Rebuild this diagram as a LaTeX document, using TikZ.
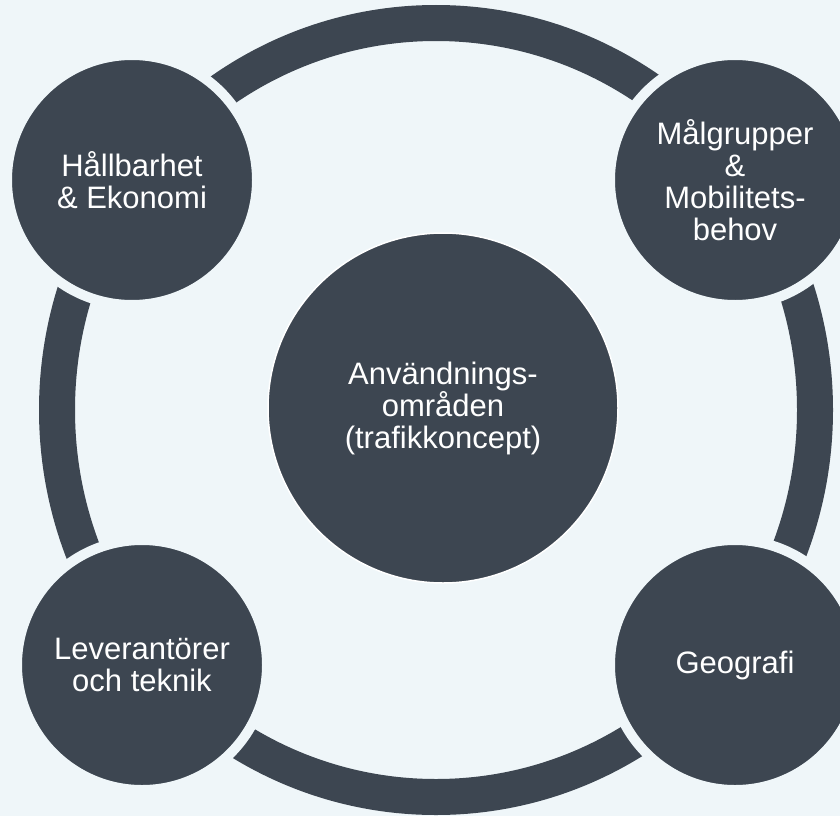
\documentclass[tikz,border=0pt]{standalone}
\usepackage{fontspec}
\setmainfont{Liberation Sans}
\definecolor{bgc}{HTML}{EFF6F9}
\definecolor{slate}{HTML}{3D4651}
\begin{document}
\begin{tikzpicture}[x=1pt,y=-1pt,
  txt/.style={text=white,align=center,font=\fontsize{31}{32}\selectfont},
  outer/.style={circle,fill=slate,draw=bgc,line width=10pt,minimum size=250pt,inner sep=0pt,txt},
  inner/.style={circle,fill=slate,draw=white,line width=1.5pt,minimum size=350pt,inner sep=0pt,txt}]
\fill[bgc] (0,0) rectangle (840,816);
\useasboundingbox (0,0) rectangle (840,816);
\draw[slate,line width=36pt] (436,410) ellipse [x radius=379, y radius=387];
\node[inner] (c) at (443,408) {Användnings-\\områden\\(trafikkoncept)};
\node[outer] (hk) at (132,180) {Hållbarhet\\\& Ekonomi};
\node[outer] (mm) at (735,180) {Målgrupper\\\&\\Mobilitets-\\behov};
\node[outer] (lt) at (142,665) {Leverantörer\\och teknik};
\node[outer] (geo) at (735,665) {Geografi};
\end{tikzpicture}
\end{document}
